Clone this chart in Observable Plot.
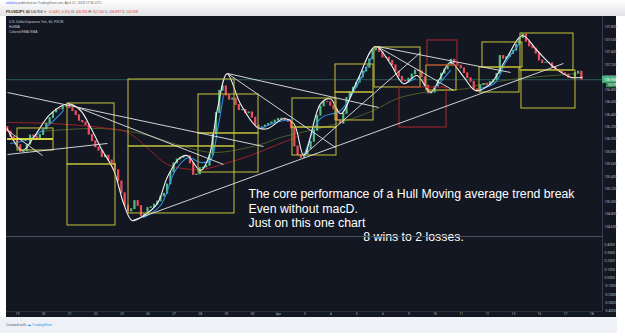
<!DOCTYPE html>
<html><head><meta charset="utf-8">
<script src="https://cdn.jsdelivr.net/npm/d3@7"></script>
<script src="https://cdn.jsdelivr.net/npm/@observablehq/plot@0.6"></script>
<style>
html,body{margin:0;padding:0;background:#fff;}
#root{position:relative;width:625px;height:336px;overflow:hidden;font-family:"Liberation Sans",Arial,sans-serif;}
#header{position:absolute;left:0;top:0;width:625px;height:16px;background:linear-gradient(#ffffff,#e2e3e5);}
.hl{position:absolute;left:6px;white-space:nowrap;font-size:3.3px;line-height:1;}
#panel{position:absolute;left:6px;top:16px;width:610px;height:301px;background:#131722;}
#panel svg{display:block;overflow:visible;}
#legend{position:absolute;left:3px;top:3.5px;color:#c8cbd3;font-size:3.3px;line-height:5px;white-space:nowrap;}
#footer{position:absolute;left:0;top:317px;width:617px;height:16px;background:#eef1f5;}
#footer div{position:absolute;left:6px;top:6px;font-size:3.6px;white-space:nowrap;color:#555;}
.red{color:#e53935}
</style></head><body>
<div id="root">
 <div id="header">
  <div class="hl" style="top:2px"><span style="color:#2962ff">x0alexx</span> <span style="color:#666">published on TradingView.com, April 17, 2018 17:30 UTC</span></div>
  <div class="hl" style="top:10.8px;color:#222"><b>FX:USDJPY, 60</b> 106.958 <span class="red">▼ −0.108 (−0.1%)</span> O: <span class="red">106.965</span> H: <span class="red">107.002</span> L: <span class="red">106.897</span> C: <span class="red">106.958</span></div>
 </div>
 <div id="panel">
  <div id="main"></div>
  <div id="sub"></div>
  <div id="legend">U.S. Dollar/Japanese Yen, 60, FXCM<br>HullMA<br>Colored EMA /SMA</div>
 </div>
 <div id="footer"><div>Created with <span style="color:#2196f3">☁ TradingView</span></div></div>
</div>
<script>
// ---- time axis (trading-day index, one label per day) ----
const dayLabels = ["19","20","21","22","23","26","27","28","29","30","Apr","3","4","5","6","9","10","11","12","13","16","17","18"];

// ---- price scale ticks ----
const priceTicks = [104.6,104.8,105.0,105.2,105.4,105.6,105.8,106.0,106.2,106.4,106.6,106.8,107.0,107.2,107.4,107.6,107.8];
const indicatorTicks = [0.4,0.3,0.2,0.1,0.0,-0.1,-0.2,-0.3,-0.4];

// ---- candles: 3-hour closes ----
const firstBarDay = -0.375;
const barHours = 3;
const firstOpen = 106.20;
const closes = [
 106.127,106.039,105.982,105.907,105.796,105.806,105.918,106.063,
 106.047,106.010,106.071,106.159,106.255,106.341,106.432,106.482,
 106.480,106.525,106.537,106.503,106.453,106.389,106.299,106.272,
 106.227,106.074,105.971,105.870,105.817,105.714,105.738,105.661,
 105.608,105.504,105.324,105.134,104.938,104.842,104.879,105.010,
 104.930,104.770,104.794,104.898,104.911,104.954,105.002,105.083,
 105.126,105.276,105.468,105.616,105.677,105.701,105.725,105.729,
 105.613,105.428,105.436,105.539,105.547,105.576,105.741,106.079,
 106.423,106.781,106.853,106.705,106.636,106.655,106.553,106.469,
 106.474,106.419,106.434,106.349,106.222,106.172,106.194,106.223,
 106.249,106.273,106.302,106.329,106.335,106.304,106.280,106.175,
 105.886,105.745,105.701,105.761,105.846,105.960,106.138,106.381,
 106.529,106.598,106.596,106.541,106.482,106.304,106.251,106.411,
 106.665,106.753,106.831,106.909,106.994,107.091,107.150,107.284,
 107.428,107.476,107.402,107.316,107.311,107.263,107.190,107.091,
 107.004,106.940,106.933,106.975,107.043,107.107,107.094,106.996,
 106.861,106.736,106.750,106.845,106.946,107.055,107.123,107.200,
 107.280,107.226,107.184,107.142,107.063,106.983,106.925,106.805,
 106.769,106.869,106.890,106.868,106.920,106.951,107.052,107.340,
 107.295,107.319,107.370,107.425,107.520,107.627,107.685,107.568,
 107.492,107.460,107.377,107.267,107.227,107.232,107.222,107.161,
 107.118,107.091,107.062,107.041,106.985,106.980,107.065,107.088,
 106.958
];
const lastClose = 106.958;
const hullLast = 106.999;

// ---- Hull MA (white) ----
const hullLine = [[-0.395,106.170],[0.18,105.822],[0.625,106.035],[1.264,106.411],[1.966,106.572],[2.414,106.464],[2.797,106.196],[3.18,105.875],[3.69,105.500],[4.07,104.965],[4.39,104.697],[4.84,104.778],[5.35,104.965],[5.74,105.393],[6.18,105.688],[6.50,105.741],[7.01,105.500],[7.33,105.714],[7.65,106.464],[8.03,107.054],[8.54,106.572],[9.18,106.196],[9.57,106.170],[10.2,106.331],[10.59,106.251],[10.97,105.741],[11.61,106.572],[11.99,106.652],[12.38,106.411],[13.02,106.946],[13.72,107.492],[14.29,107.214],[14.80,106.893],[15.31,107.027],[15.82,106.758],[16.21,106.999],[16.59,107.240],[17.10,106.999],[17.55,106.786],[18.12,106.893],[18.76,107.320],[19.34,107.669],[19.91,107.428],[20.55,107.160],[21.19,106.999],[21.64,106.999]];

// ---- coloured EMA (blue, rising legs) ----
const blueSegments = [
 [[-0.27,105.934],[0.50,106.015],[1.26,106.255],[1.76,106.464]],
 [[4.83,104.745],[5.48,104.938],[6.05,105.500],[6.55,105.709],[7.01,105.629],[7.39,105.661],[7.66,106.143],[7.89,106.705]],
 [[9.31,106.175],[9.89,106.272],[10.46,106.320]],
 [[10.96,105.709],[11.61,106.336],[12.38,106.464],[12.95,106.818],[13.60,107.348]],
 [[14.87,106.898],[15.25,106.978]],
 [[15.94,106.786],[16.59,107.107]],
 [[17.74,106.818],[18.31,106.914],[18.70,107.235],[19.27,107.557]]
];

// ---- slow moving averages ----
const redMA = [[-0.383,106.272],[1.264,106.255],[3.18,106.191],[4.214,106.111],[5.096,105.822],[5.747,105.597],[7.011,105.517],[7.969,105.613],[8.927,105.741],[9.885,105.902],[10.843,106.063]];
const oliveMA = [[0.881,106.127],[3.18,106.175],[4.713,106.095],[6.245,105.902],[7.51,105.790],[9.31,105.918],[10.077,106.031],[11.993,106.223],[13.64,106.464],[14.56,106.657],[15.82,106.770],[17.24,106.818],[17.74,106.882],[19.27,106.978],[21.57,107.059]];

// ---- drawn boxes [startDay, endDay, top, bottom] ----
const yellowBoxes = [
 [0,1.379,106.175,105.822],
 [1.916,3.717,106.577,105.597],
 [1.916,3.755,105.597,104.617],
 [4.253,8.314,106.962,105.886],
 [4.253,8.314,105.886,104.810],
 [6.935,9.234,106.721,106.095],
 [6.935,9.234,106.095,105.468],
 [10.536,12.222,106.657,106.191],
 [10.536,12.222,106.191,105.741],
 [12.184,13.64,107.203,106.753],
 [12.184,13.64,106.753,106.304],
 [13.678,15.441,107.476,106.834],
 [15.67,16.82,107.187,106.786],
 [17.816,19.348,107.557,107.155],
 [17.701,19.233,107.155,106.753],
 [19.272,21.302,107.701,107.107],
 [19.31,21.379,107.107,106.496]
];
const redBoxes = [
 [15.709,16.858,107.589,107.187],
 [14.636,16.437,106.834,106.191]
];
const yellowLevels = [[-0.383,1.379,106.005]];

// ---- trend lines [d1, p1, d2, p2] ----
const trendLines = [
 [-0.383,106.753,9.425,105.886],
 [1.916,106.577,7.893,105.597],
 [-0.383,106.143,0.958,105.741],
 [-0.383,105.757,3.448,105.934],
 [8.046,107.059,13.831,106.513],
 [8.046,107.059,12.184,105.870],
 [4.406,104.697,20.919,107.219],
 [10.958,105.741,15.441,107.396],
 [13.793,107.492,18.889,107.075],
 [13.793,107.492,16.705,106.786]
];

// ---- annotation ----
const noteText = ["The core performance of a Hull Moving average trend break","Even without macD.","Just on this one chart","8 wins to 2 losses."];
const noteDay = [8.85,8.85,8.85,13.25];
const notePrice = [105.115,104.888,104.650,104.424];

// ================= build =================
const X0 = -0.4215, X1 = 22.414;
const priceDomain = [104.44, 107.974];
const subDomain = [-0.405, 0.495];
const up = "#53b987", down = "#eb4d5c";
const tagPad = 14 * (X1 - X0) / 596;

const bars = closes.map((c,i)=>({d: firstBarDay + i*barHours/24, open: i===0 ? firstOpen : closes[i-1], close: c}));
const blueData = blueSegments.flatMap((s,k)=>s.map(([d,p])=>({k,d,p})));
const notes = noteText.map((t,i)=>({text:t, d:noteDay[i], p:notePrice[i]}));
const rectOpts = (color, w) => ({x1:b=>b[0], x2:b=>b[1], y1:b=>b[2], y2:b=>b[3], fill:"none", stroke:color, strokeWidth:w});

const main = Plot.plot({
  width: 610, height: 220,
  marginTop: 0, marginBottom: 0, marginLeft: 0, marginRight: 14,
  x: {domain: [X0, X1], axis: null},
  y: {domain: priceDomain},
  style: {background: "transparent", color: "#b2b5be", fontFamily: "Roboto, sans-serif", overflow: "visible"},
  marks: [
    Plot.ruleY([lastClose], {stroke: "#2f6f66", strokeWidth: 0.8}),
    Plot.line(oliveMA, {x: d=>d[0], y: d=>d[1], stroke: "#4a5e2a", strokeWidth: 1, curve: "catmull-rom"}),
    Plot.line(redMA, {x: d=>d[0], y: d=>d[1], stroke: "#9b2226", strokeWidth: 1, curve: "catmull-rom"}),
    Plot.rect(bars, {x1: b=>b.d-0.042, x2: b=>b.d+0.042, y1: "open", y2: "close", insetTop: -0.4, insetBottom: -0.4,
      fill: b => b.close >= b.open ? up : down}),
    Plot.line(blueData, {x: "d", y: "p", z: "k", stroke: "#2f8fe8", strokeWidth: 1.1, curve: "catmull-rom"}),
    Plot.line(hullLine, {x: d=>d[0], y: d=>d[1], stroke: "#f2f2f2", strokeWidth: 1.1, curve: "catmull-rom"}),
    Plot.rect(yellowBoxes, rectOpts("#c6c33a", 1)),
    Plot.rect(redBoxes, rectOpts("#b3262b", 1)),
    Plot.ruleY(yellowLevels, {x1: l=>l[0], x2: l=>l[1], y: l=>l[2], stroke: "#d8d43c", strokeWidth: 2}),
    Plot.link(trendLines, {x1: l=>l[0], y1: l=>l[1], x2: l=>l[2], y2: l=>l[3], stroke: "#e6e6e6", strokeWidth: 0.9}),
    Plot.ruleX([X1], {stroke: "#3a3e4a"}),
    Plot.text(notes, {x: "d", y: "p", text: "text", textAnchor: "start", fill: "#ffffff", fontSize: 12.3, fontFamily: "Liberation Sans, Arial, sans-serif"}),
    Plot.axisY(priceTicks, {anchor: "right", tickSize: 0, tickPadding: 2, fontSize: 3.4, tickFormat: d => d.toFixed(3), label: null}),
    Plot.rect([lastClose], {x1: X1, x2: X1 + tagPad, y1: d=>d-0.058, y2: d=>d+0.058, fill: "#4fb37f"}),
    Plot.text([lastClose], {x: X1, y: d=>d, dx: 2, text: d=>d.toFixed(3), textAnchor: "start", fill: "#fff", fontSize: 3.4}),
    Plot.rect([hullLast], {x1: X1 + tagPad*0.28, x2: X1 + tagPad, y1: d=>d-0.17, y2: d=>d-0.09, fill: "#2e8b57"}),
    Plot.text([hullLast], {x: X1, y: d=>d-0.13, dx: 5, text: d=>d.toFixed(3), textAnchor: "start", fill: "#fff", fontSize: 2.8})
  ]
});
document.getElementById("main").append(main);

const sub = Plot.plot({
  width: 610, height: 81,
  marginTop: 0, marginBottom: 6, marginLeft: 0, marginRight: 14,
  x: {domain: [X0, X1]},
  y: {domain: subDomain},
  style: {background: "transparent", color: "#b2b5be", fontFamily: "Roboto, sans-serif"},
  marks: [
    Plot.ruleY([subDomain[1]], {stroke: "#4a4e5a", strokeWidth: 1}),
    Plot.ruleY([subDomain[0]], {stroke: "#2a2e39", strokeWidth: 1}),
    Plot.ruleX([X1], {stroke: "#3a3e4a"}),
    Plot.axisY(indicatorTicks, {anchor: "right", tickSize: 0, tickPadding: 2, fontSize: 3.4, tickFormat: d => d.toFixed(4), label: null}),
    Plot.axisX(d3.range(dayLabels.length), {anchor: "bottom", tickSize: 0, tickPadding: 1.5, fontSize: 3.4, tickFormat: d => dayLabels[d], label: null})
  ]
});
document.getElementById("sub").append(sub);
</script>
</body></html>
